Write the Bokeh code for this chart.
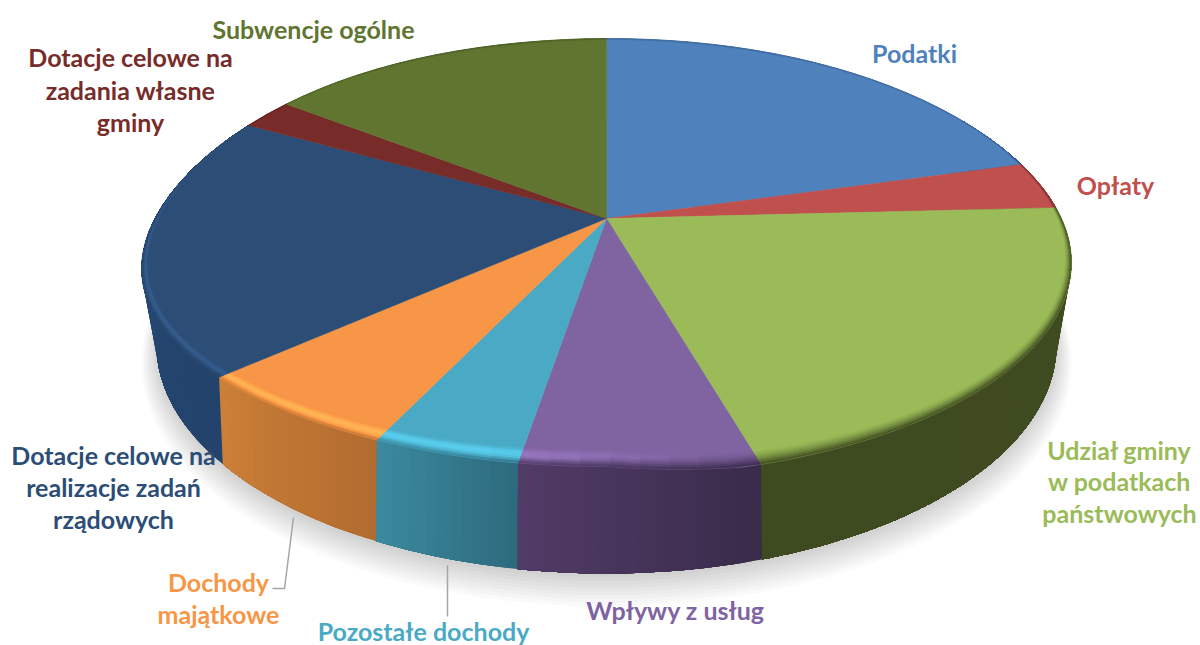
import numpy as np
from bokeh.plotting import figure
from bokeh.models import Range1d, ColumnDataSource
from bokeh.core.properties import value
from bokeh.embed import file_html
from bokeh.resources import INLINE

# ---- data (percent share, clockwise from 12 o'clock)
categories = ["Podatki", "Opłaty", "Udział gminy w podatkach państwowych", "Wpływy z usług",
              "Pozostałe dochody", "Dochody majątkowe", "Dotacje celowe na realizacje zadań rządowych",
              "Dotacje celowe na zadania własne gminy", "Subwencje ogólne"]
shares = [19.9, 3.5, 22.0, 7.2, 4.45, 6.6, 20.3, 2.1, 13.95]

face_colors = ["#4f81bd", "#c0504d", "#9bbb59", "#8064a2", "#4aaac5", "#f79646", "#2c4d75", "#772c2a", "#5f7530"]
wall_start = ["#2f4d70", "#733030", "#414c20", "#392b4a", "#2e6a7e", "#b36c30", "#23436c", "#4a1c1c", "#3c4a1f"]
wall_end = ["#2f4d70", "#733030", "#3e4a20", "#523c68", "#3b8ba0", "#cc8038", "#2a4d78", "#4a1c1c", "#3c4a1f"]

label_lines = [
    ("Podatki", 914, 52, 0), ("Opłaty", 1115, 184, 1),
    ("Udział gminy", 1119, 449, 2), ("w podatkach", 1119, 480, 2), ("państwowych", 1119, 512, 2),
    ("Wpływy z usług", 675, 609, 3), ("Pozostałe dochody", 423, 630, 4),
    ("Dochody", 218, 581, 5), ("majątkowe", 218, 613, 5),
    ("Dotacje celowe na", 113, 454, 6), ("realizacje zadań", 113, 486, 6), ("rządowych", 113, 518, 6),
    ("Dotacje celowe na", 130, 56, 7), ("zadania własne", 130, 89, 7), ("gminy", 130, 121, 7),
    ("Subwencje ogólne", 313, 28, 8),
]

# ---- projection of the tilted disc
TOP = dict(ax=606.0, ay=218.0, a=208.6, b=459.0, k=0.1589, warp=True)
BOT = dict(ax=606.0, ay=298.0, a=220.0, b=441.0, k=0.2, warp=False)


def disc(th, ax, ay, a, b, k, warp=False, s=0.0):
    u, v = np.sin(th), np.cos(th)
    d = 1 + k * v
    x, y = b * u / d, -a * v / d
    if warp:
        right = np.where(v > 0, 10 * np.abs(u) ** 3, 10 * np.minimum(1, np.abs(u) / 0.25))
        y = y + np.where(u > 0, right, 15 * np.abs(u) ** 4 + 2 * np.abs(u))
    if np.ndim(s) or s:
        r = np.hypot(x, y)
        f = 1 - s / r
        x, y = x * f, y * f
    return ax + x, ay + y


def rgb(h):
    return np.array([int(h[i:i + 2], 16) for i in (1, 3, 5)], float)


def hexc(c):
    c = np.clip(c, 0, 255).astype(int)
    return "#%02x%02x%02x" % tuple(c)


def mix(a, b, t):
    return a + (b - a) * t


cum = np.concatenate([[0], np.cumsum(shares)]) / np.sum(shares) * 2 * np.pi

p = figure(width=1200, height=645, x_range=Range1d(0, 1200), y_range=Range1d(645, 0),
           toolbar_location=None, output_backend="svg", min_border=0,
           x_axis_type=None, y_axis_type=None, outline_line_color=None, background_fill_color="white")
p.grid.visible = False

# soft shadow
full = np.linspace(0, 2 * np.pi, 240)
for i in range(9):
    sh = dict(BOT, ay=BOT["ay"] + 4 + i * 1.6, a=BOT["a"] + i * 1.6, b=BOT["b"] + i * 1.8)
    x, y = disc(full, **sh)
    p.patch(x, y, fill_color="#000000", fill_alpha=0.02, line_color=None)

# side wall: each step repaints the rest of the slice, so no seams appear between steps
xs, ys, cols = [], [], []
for i in range(len(shares)):
    a0, a1 = cum[i], cum[i + 1]
    n = max(2, int(np.degrees(a1 - a0)))
    e = np.linspace(a0, a1, n + 1)
    for j in range(n):
        th = np.linspace(e[j], a1, n - j + 1)
        th = th[np.cos(th) < 0.55]
        if len(th) < 2:
            continue
        x0, y0 = disc(th, **TOP)
        x1, y1 = disc(th[::-1], **BOT)
        xs.append(list(x0) + list(x1))
        ys.append(list(y0) + list(y1))
        cols.append(hexc(mix(rgb(wall_start[i]), rgb(wall_end[i]), (j + 0.5) / n)))
p.patches(xs, ys, fill_color=cols, line_color=None)

# top faces
xs, ys, cols = [], [], []
for i in range(len(shares)):
    th = np.linspace(cum[i], cum[i + 1], 80)
    x, y = disc(th, **TOP)
    xs.append([TOP["ax"]] + list(x))
    ys.append([TOP["ay"]] + list(y))
    cols.append(face_colors[i])
p.patches(xs, ys, fill_color=cols, line_color=cols, line_width=0.5)

# bevelled rim
xs, ys, cols = [], [], []
RINGS = 7
for i in range(len(shares)):
    a0, a1 = cum[i], cum[i + 1]
    n = max(2, int(np.degrees(a1 - a0) / 3))
    e = np.linspace(a0, a1, n + 1)
    face = rgb(face_colors[i])
    for j in range(n):
        tm = (e[j] + e[j + 1]) / 2
        deg = np.degrees(tm)
        v = np.cos(e[j:j + 2])
        w = 1.5 + 14.5 * np.maximum(0, (0.3 - v) / 1.3)
        L = np.clip((deg - 168) / 25, 0, 1) * np.clip((335 - deg) / 70, 0, 1)
        wall = mix(rgb(wall_start[i]), rgb(wall_end[i]), (j + 0.5) / n)
        if np.cos(tm) > 0.35:
            wall = mix(face, wall, 0.45)
        hl = face * 1.22
        for r in range(RINGS):
            t0, t1 = r / RINGS, (r + 1) / RINGS
            t = (t0 + t1) / 2
            th = e[j:j + 2]
            xo, yo = disc(th, s=w * (1 - t1), **TOP)
            xi, yi = disc(th[::-1], s=w[::-1] * (1 - t0), **TOP)
            bump = np.sin(np.pi * min(t / 0.8, 1))
            c = mix(face, hl, L * bump)
            s0 = 0.75 * L
            c = mix(c, wall, np.clip((t - s0) / (1 - s0), 0, 1) ** 1.5)
            xs.append(list(xo) + list(xi))
            ys.append(list(yo) + list(yi))
            cols.append(hexc(c))
p.patches(xs, ys, fill_color=cols, line_color=cols, line_width=0.4)

# leader lines
p.line([293, 284, 272], [517, 588, 588], line_color="#a6a6a6", line_width=1.5)
p.line([447, 447], [565, 616], line_color="#a6a6a6", line_width=1.5)

# labels
src = ColumnDataSource(dict(
    x=[l[1] for l in label_lines], y=[l[2] for l in label_lines], t=[l[0] for l in label_lines],
    c=[face_colors[l[3]] for l in label_lines]))
p.text("x", "y", "t", source=src, text_color="c", text_font=value("Lato"), text_font_style="bold",
       text_font_size="25px", text_align="center", text_baseline="middle")

open("out.html", "w").write(file_html(p, INLINE))
